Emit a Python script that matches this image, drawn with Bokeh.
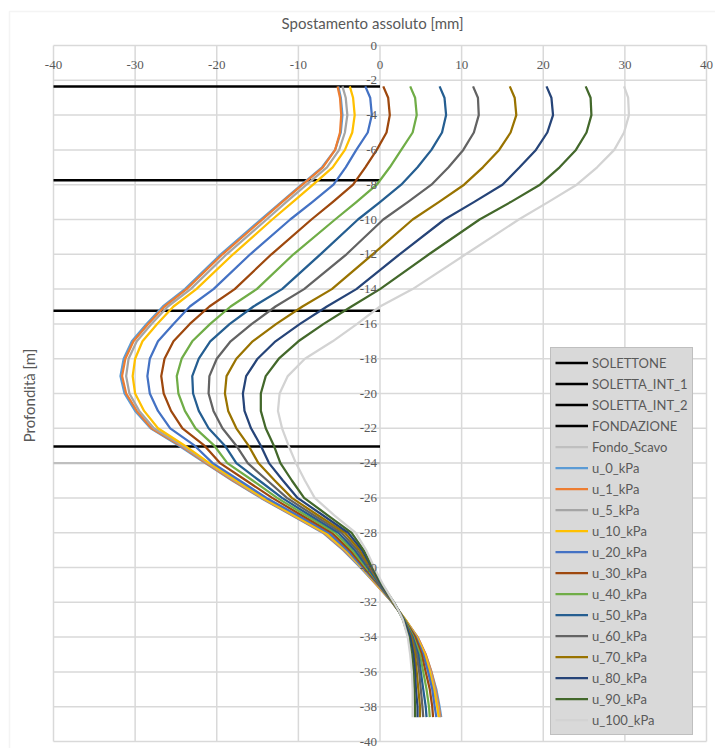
import math
from bokeh.plotting import figure
from bokeh.models import (ColumnDataSource, LabelSet, Label, Legend, LegendItem,
                          Range1d, BoxAnnotation)
from bokeh.embed import file_html
from bokeh.resources import INLINE

# ---------------- data ----------------
depth = [-2.35, -3, -4, -5, -6, -7, -8, -9, -10, -12, -14, -15, -16, -17, -18,
         -19, -20, -21, -22, -23, -24, -25, -26, -27, -28, -29, -30, -31, -32,
         -32.5, -33, -34, -35, -36, -37, -38, -38.6]

u_0_kPa = [-5.1, -4.8, -4.6, -4.8, -5.5, -7.1, -9.6, -12.1, -14.6, -19.5, -23.9, -26.6, -28.6, -30.4, -31.4,
           -31.8, -31.3, -30.0, -28.1, -24.6, -21.4, -18.1, -14.6, -10.8, -7.0, -4.5, -2.4, -0.4, 1.5,
           2.3, 3.1, 4.6, 5.6, 6.3, 6.9, 7.3, 7.5]
u_1_kPa = [-5.2, -4.9, -4.75, -4.9, -5.5, -7.0, -9.5, -12.0, -14.4, -19.3, -23.7, -26.4, -28.4, -30.2, -31.2,
           -31.6, -31.1, -29.8, -28.0, -24.4, -21.3, -18.0, -14.5, -10.7, -6.9, -4.4, -2.3, -0.4, 1.5,
           2.3, 3.1, 4.6, 5.6, 6.3, 6.8, 7.2, 7.4]
u_5_kPa = [-4.6, -4.2, -4.0, -4.3, -5.0, -6.5, -9.0, -11.5, -13.9, -18.8, -23.2, -26.0, -28.0, -29.8, -30.8,
           -31.1, -30.7, -29.5, -27.7, -24.2, -21.1, -17.8, -14.4, -10.6, -6.8, -4.3, -2.3, -0.3, 1.5,
           2.3, 3.1, 4.5, 5.5, 6.2, 6.7, 7.1, 7.3]
u_10_kPa = [-3.7, -3.3, -3.1, -3.4, -4.3, -5.8, -8.2, -10.7, -13.2, -18.0, -22.5, -25.3, -27.3, -29.1, -30.0,
            -30.3, -30.0, -28.9, -27.2, -23.9, -20.9, -17.6, -14.3, -10.5, -6.7, -4.2, -2.2, -0.3, 1.5,
            2.3, 3.1, 4.5, 5.5, 6.1, 6.6, 7.0, 7.2]
u_20_kPa = [-1.8, -1.2, -1.0, -1.5, -2.9, -4.2, -5.7, -8.3, -11.0, -15.9, -20.4, -23.3, -25.3, -27.2, -28.2,
            -28.5, -28.2, -27.2, -25.7, -22.7, -20.5, -17.2, -13.9, -10.1, -6.3, -4.0, -2.1, -0.2, 1.5,
            2.3, 3.0, 4.4, 5.3, 5.9, 6.4, 6.7, 6.9]
u_30_kPa = [0.4, 1.0, 1.2, 0.8, -0.4, -1.8, -3.3, -5.8, -8.4, -13.3, -17.8, -20.9, -23.3, -25.3, -26.4,
            -26.8, -26.5, -25.6, -24.2, -21.5, -19.6, -16.4, -13.2, -9.6, -5.9, -3.7, -1.9, -0.1, 1.6,
            2.3, 3.0, 4.3, 5.1, 5.6, 6.1, 6.4, 6.5]
u_40_kPa = [3.7, 4.3, 4.5, 4.0, 2.6, 1.2, -0.4, -2.9, -5.5, -10.6, -15.1, -18.3, -20.8, -23.0, -24.3,
            -24.9, -24.7, -23.9, -22.6, -20.3, -18.7, -15.6, -12.6, -9.1, -5.5, -3.4, -1.7, 0.0, 1.6,
            2.3, 3.0, 4.1, 4.9, 5.3, 5.7, 6.0, 6.1]
u_50_kPa = [7.3, 7.9, 8.1, 7.6, 6.3, 4.6, 2.6, 0.0, -2.7, -7.3, -12.0, -15.5, -18.4, -20.8, -22.2,
            -23.0, -22.9, -22.2, -21.0, -19.0, -17.6, -14.8, -12.0, -8.6, -5.1, -3.1, -1.5, 0.0, 1.6,
            2.3, 2.9, 4.0, 4.7, 5.0, 5.3, 5.6, 5.7]
u_60_kPa = [11.4, 12.0, 12.1, 11.5, 10.2, 8.4, 6.3, 3.4, 0.4, -4.1, -9.3, -12.8, -15.7, -18.3, -20.0,
            -20.9, -21.0, -20.4, -19.3, -17.6, -16.2, -13.8, -11.4, -8.1, -4.7, -2.8, -1.3, 0.1, 1.6,
            2.3, 2.9, 3.9, 4.5, 4.8, 5.0, 5.2, 5.3]
u_70_kPa = [15.9, 16.5, 16.7, 16.0, 14.6, 12.6, 10.3, 7.2, 4.0, -0.9, -5.9, -9.5, -12.7, -15.6, -17.6,
            -18.8, -19.0, -18.6, -17.6, -16.1, -14.9, -12.9, -10.8, -7.6, -4.3, -2.5, -1.2, 0.2, 1.6,
            2.3, 2.9, 3.8, 4.3, 4.5, 4.7, 4.9, 4.9]
u_80_kPa = [20.4, 21.0, 21.2, 20.5, 19.1, 17.1, 15.0, 11.5, 7.9, 2.4, -2.9, -6.5, -9.8, -12.8, -15.0,
            -16.4, -16.8, -16.6, -15.8, -14.6, -13.6, -11.9, -10.1, -7.0, -3.9, -2.2, -1.0, 0.2, 1.7,
            2.3, 2.9, 3.7, 4.1, 4.3, 4.4, 4.6, 4.6]
u_90_kPa = [25.2, 25.8, 25.9, 25.3, 24.0, 22.0, 19.6, 16.0, 12.2, 6.0, 0.0, -3.5, -6.9, -10.0, -12.4,
            -14.0, -14.6, -14.6, -14.0, -13.0, -12.2, -10.8, -9.3, -6.4, -3.5, -2.0, -0.9, 0.3, 1.7,
            2.3, 2.8, 3.5, 3.9, 4.1, 4.2, 4.3, 4.3]
u_100_kPa = [29.9, 30.4, 30.5, 29.9, 28.7, 26.6, 24.1, 20.6, 17.0, 10.5, 4.0, 0.0, -2.8, -5.8, -9.2,
             -11.3, -12.3, -12.5, -12.0, -11.2, -10.3, -9.2, -8.0, -5.6, -3.0, -1.7, -0.7, 0.4, 1.7,
             2.3, 2.8, 3.4, 3.7, 3.9, 4.0, 4.0, 4.0]

series_names = ["u_0_kPa", "u_1_kPa", "u_5_kPa", "u_10_kPa", "u_20_kPa", "u_30_kPa",
                "u_40_kPa", "u_50_kPa", "u_60_kPa", "u_70_kPa", "u_80_kPa", "u_90_kPa",
                "u_100_kPa"]
series_values = [u_0_kPa, u_1_kPa, u_5_kPa, u_10_kPa, u_20_kPa, u_30_kPa, u_40_kPa,
                 u_50_kPa, u_60_kPa, u_70_kPa, u_80_kPa, u_90_kPa, u_100_kPa]

level_names = ["SOLETTONE", "SOLETTA_INT_1", "SOLETTA_INT_2", "FONDAZIONE", "Fondo_Scavo"]
level_depths = [-2.35, -7.75, -15.25, -23.05, -24.0]
level_x = [-40, 0]

x_ticks = [-40, -30, -20, -10, 0, 10, 20, 30, 40]
y_ticks = [0, -2, -4, -6, -8, -10, -12, -14, -16, -18, -20, -22, -24, -26, -28,
           -30, -32, -34, -36, -38, -40]

x_title = "Spostamento assoluto [mm]"
y_title = "Profondità [m]"

# ---------------- layout / styles ----------------
W, H = 715, 748
PX_L, PX_R = 53, 706      # pixel columns of the first / last x tick
PY_T, PY_B = 45, 741      # pixel rows of the first / last y tick
sx = (PX_R - PX_L) / (x_ticks[-1] - x_ticks[0])
sy = (PY_B - PY_T) / (y_ticks[0] - y_ticks[-1])


def px2x(px):
    return x_ticks[0] + (px - PX_L) / sx


def py2y(py):
    return y_ticks[0] - (py - PY_T) / sy


series_colors = ["#5B9BD5", "#ED7D31", "#A5A5A5", "#FFC000", "#4472C4", "#9E480E",
                 "#70AD47", "#255E91", "#636363", "#997300", "#264478", "#43682B",
                 "#D3D3D3"]
level_colors = ["#000000", "#000000", "#000000", "#000000", "#BFBFBF"]
FONT = "Lato"
TXT = "#595959"
GRID = "#D9D9D9"

p = figure(width=W, height=H, output_backend="svg", toolbar_location=None,
           x_range=Range1d(px2x(0), px2x(W)), y_range=Range1d(py2y(H), py2y(0)),
           x_axis_location=None, y_axis_location=None, min_border=0)
p.outline_line_color = None
p.background_fill_color = "white"
p.border_fill_color = "white"
p.grid.visible = False

# chart border
p.add_layout(BoxAnnotation(left=px2x(9), right=px2x(W + 20), top=py2y(11), bottom=py2y(H + 20),
                           fill_alpha=0, line_color=GRID, line_width=1.5, level="underlay"))

# gridlines spanning the plot area only
n_y, n_x = len(y_ticks), len(x_ticks)
p.segment(x0=[x_ticks[0]] * n_y, x1=[x_ticks[-1]] * n_y, y0=y_ticks, y1=y_ticks,
          line_color=GRID, line_width=1.5)
p.segment(x0=x_ticks, x1=x_ticks, y0=[y_ticks[-1]] * n_x, y1=[y_ticks[0]] * n_x,
          line_color=GRID, line_width=1.5)

items = []
for name, d, c in zip(level_names, level_depths, level_colors):
    r = p.line(x=level_x, y=[d, d], line_color=c,
               line_width=2.5 if c == "#000000" else 2.25)
    items.append(LegendItem(label=name, renderers=[r]))

for name, vals, c in zip(series_names, series_values, series_colors):
    src = ColumnDataSource(dict(x=vals, y=depth))
    r = p.line(x="x", y="y", source=src, line_color=c, line_width=2.25,
               line_join="round")
    items.append(LegendItem(label=name, renderers=[r]))

# tick labels (axes cross inside the plot, as in the original)
xsrc = ColumnDataSource(dict(x=x_ticks, y=[y_ticks[0]] * n_x, t=[str(v) for v in x_ticks]))
p.add_layout(LabelSet(x="x", y="y", text="t", source=xsrc, y_offset=-19,
                      text_align="center", text_baseline="middle",
                      text_font=FONT, text_font_size="13px", text_color=TXT))
ysrc = ColumnDataSource(dict(x=[0] * n_y, y=y_ticks, t=[str(v) for v in y_ticks]))
p.add_layout(LabelSet(x="x", y="y", text="t", source=ysrc, x_offset=-3,
                      text_align="right", text_baseline="middle",
                      text_font=FONT, text_font_size="13px", text_color=TXT))

# axis titles
p.add_layout(Label(x=px2x(372), y=py2y(22), text=x_title, text_align="center",
                   text_baseline="middle", text_font=FONT, text_font_size="15px",
                   text_color=TXT))
p.add_layout(Label(x=px2x(28), y=py2y(395), text=y_title, angle=math.pi / 2,
                   text_align="center", text_baseline="middle", text_font=FONT,
                   text_font_size="15px", text_color=TXT))

legend = Legend(items=items, location=(550, H - 735), orientation="vertical")
legend.background_fill_color = "#D9D9D9"
legend.background_fill_alpha = 1.0
legend.border_line_color = "#A6A6A6"
legend.border_line_width = 1.5
legend.label_text_font = FONT
legend.label_text_font_size = "13px"
legend.label_text_color = TXT
legend.glyph_width = 33
legend.glyph_height = 21
legend.label_height = 21
legend.spacing = 0
legend.padding = 4
legend.margin = 0
legend.label_standoff = 4
p.add_layout(legend)

open("out.html", "w").write(file_html(p, INLINE))
